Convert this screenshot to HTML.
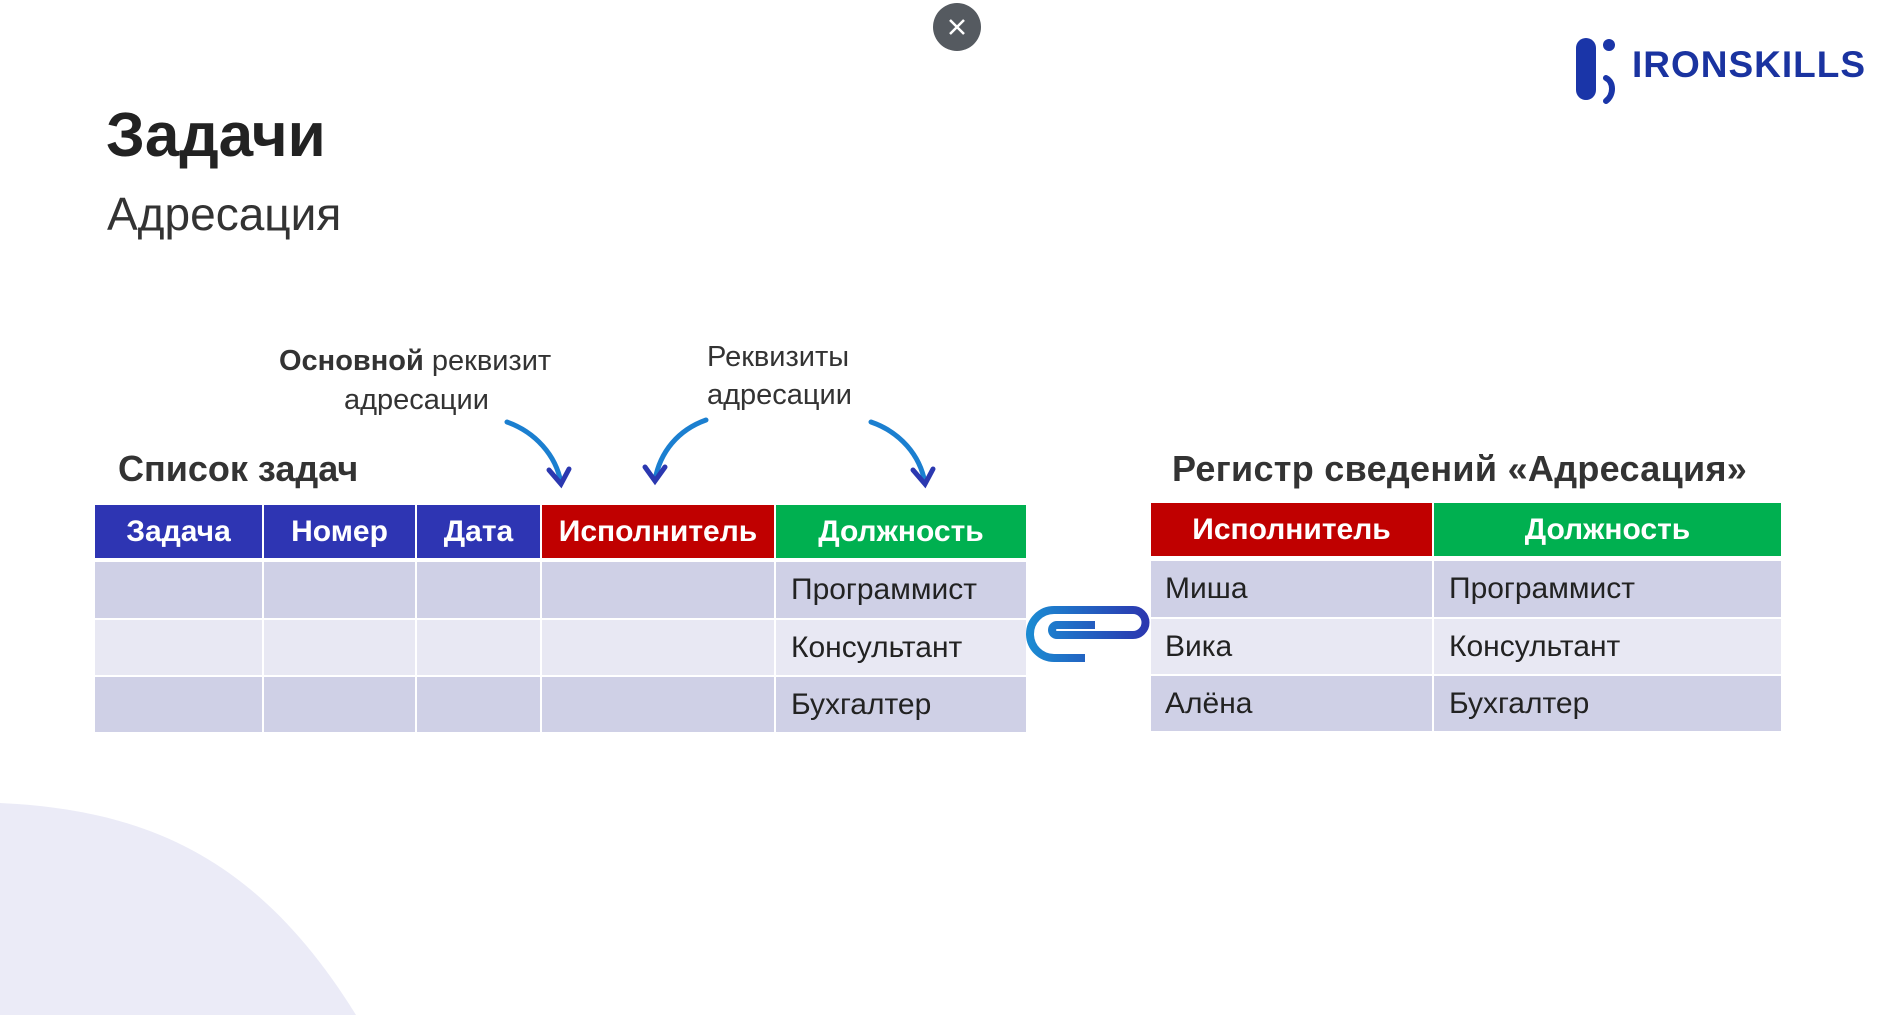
<!DOCTYPE html>
<html><head><meta charset="utf-8"><style>
body{margin:0;width:1892px;height:1015px;position:relative;background:#fff;overflow:hidden;font-family:"Liberation Sans","DejaVu Sans",sans-serif;}
.a{position:absolute;white-space:nowrap;}
.c{position:absolute;box-sizing:border-box;display:flex;align-items:center;font-size:30px;}
.h{color:#fff;font-weight:bold;justify-content:center;}
.t{color:#222;padding-left:15px;}
</style></head><body>
<svg class="a" style="left:0;top:0" width="1892" height="1015">
<path d="M0,803 C150,810 260,860 356,1015 L0,1015 Z" fill="#ebebf7"/>
<circle cx="957" cy="27" r="24" fill="#555a60"/>
<path d="M950,20 L964,34 M964,20 L950,34" stroke="#fff" stroke-width="2.5"/>
<defs><linearGradient id="g" x1="0" x2="1"><stop offset="0" stop-color="#1b8ad2"/><stop offset="1" stop-color="#2b38b0"/></linearGradient></defs>
<path d="M1085,658 H1054 A24,24 0 0 1 1054,610 H1133 A12.5,12.5 0 0 1 1133,635 H1057 A5,5 0 0 1 1057,625 H1095" fill="none" stroke="url(#g)" stroke-width="8"/>
<g fill="none" stroke-width="5" stroke-linecap="round">
<path d="M507,422 C535,432 556,455 561,483" stroke="#1b7fd0"/>
<path d="M549,470 L561,484 L569,469" stroke="#2b38b0"/>
<path d="M706,420 C678,430 660,452 655,480" stroke="#1b7fd0"/>
<path d="M645,467 L655,481 L665,467" stroke="#2b38b0"/>
<path d="M871,422 C900,432 920,455 925,483" stroke="#1b7fd0"/>
<path d="M913,470 L925,484 L933,469" stroke="#2b38b0"/>
</g>
<rect x="1576" y="38" width="20" height="62" rx="10" fill="#1a35a8"/>
<circle cx="1609" cy="45" r="6" fill="#1a35a8"/>
<path d="M1606,78 C1614,82 1614,95 1606,101" stroke="#1a35a8" stroke-width="6" fill="none" stroke-linecap="round"/>
</svg>
<div class="a" style="left:1632px;top:44px;font-size:37px;font-weight:bold;color:#1a33a0;letter-spacing:1px">IRONSKILLS</div>
<div class="a" style="left:106px;top:100px;font-size:62px;font-weight:bold;color:#222">Задачи</div>
<div class="a" style="left:107px;top:187px;font-size:46px;color:#333">Адресация</div>
<div class="a" style="left:279px;top:345px;font-size:29px;color:#333"><b>Основной</b> реквизит</div>
<div class="a" style="left:344px;top:384px;font-size:29px;color:#333">адресации</div>
<div class="a" style="left:707px;top:341px;font-size:29px;color:#333">Реквизиты</div>
<div class="a" style="left:707px;top:379px;font-size:29px;color:#333">адресации</div>
<div class="a" style="left:118px;top:448px;font-size:36px;font-weight:bold;color:#333">Список задач</div>
<div class="a" style="left:1172px;top:448px;font-size:36px;font-weight:bold;color:#333;letter-spacing:0.3px">Регистр сведений «Адресация»</div>

<div class="c h" style="left:95px;top:505px;width:167px;height:53px;background:#2e35b3">Задача</div>
<div class="c h" style="left:264px;top:505px;width:151px;height:53px;background:#2e35b3">Номер</div>
<div class="c h" style="left:417px;top:505px;width:123px;height:53px;background:#2e35b3">Дата</div>
<div class="c h" style="left:542px;top:505px;width:232px;height:53px;background:#c00000">Исполнитель</div>
<div class="c h" style="left:776px;top:505px;width:250px;height:53px;background:#00b050">Должность</div>

<div class="c" style="left:95px;top:562px;width:167px;height:56px;background:#cfd0e6"></div>
<div class="c" style="left:264px;top:562px;width:151px;height:56px;background:#cfd0e6"></div>
<div class="c" style="left:417px;top:562px;width:123px;height:56px;background:#cfd0e6"></div>
<div class="c" style="left:542px;top:562px;width:232px;height:56px;background:#cfd0e6"></div>
<div class="c t" style="left:776px;top:562px;width:250px;height:56px;background:#cfd0e6">Программист</div>
<div class="c" style="left:95px;top:620px;width:167px;height:55px;background:#e8e8f3"></div>
<div class="c" style="left:264px;top:620px;width:151px;height:55px;background:#e8e8f3"></div>
<div class="c" style="left:417px;top:620px;width:123px;height:55px;background:#e8e8f3"></div>
<div class="c" style="left:542px;top:620px;width:232px;height:55px;background:#e8e8f3"></div>
<div class="c t" style="left:776px;top:620px;width:250px;height:55px;background:#e8e8f3">Консультант</div>
<div class="c" style="left:95px;top:677px;width:167px;height:55px;background:#cfd0e6"></div>
<div class="c" style="left:264px;top:677px;width:151px;height:55px;background:#cfd0e6"></div>
<div class="c" style="left:417px;top:677px;width:123px;height:55px;background:#cfd0e6"></div>
<div class="c" style="left:542px;top:677px;width:232px;height:55px;background:#cfd0e6"></div>
<div class="c t" style="left:776px;top:677px;width:250px;height:55px;background:#cfd0e6">Бухгалтер</div>

<div class="c h" style="left:1151px;top:503px;width:281px;height:53px;background:#c00000">Исполнитель</div>
<div class="c h" style="left:1434px;top:503px;width:347px;height:53px;background:#00b050">Должность</div>
<div class="c t" style="left:1151px;top:561px;width:281px;height:56px;background:#cfd0e6;padding-left:14px">Миша</div>
<div class="c t" style="left:1434px;top:561px;width:347px;height:56px;background:#cfd0e6">Программист</div>
<div class="c t" style="left:1151px;top:619px;width:281px;height:55px;background:#e8e8f3;padding-left:14px">Вика</div>
<div class="c t" style="left:1434px;top:619px;width:347px;height:55px;background:#e8e8f3">Консультант</div>
<div class="c t" style="left:1151px;top:676px;width:281px;height:55px;background:#cfd0e6;padding-left:14px">Алёна</div>
<div class="c t" style="left:1434px;top:676px;width:347px;height:55px;background:#cfd0e6">Бухгалтер</div>
</body></html>
